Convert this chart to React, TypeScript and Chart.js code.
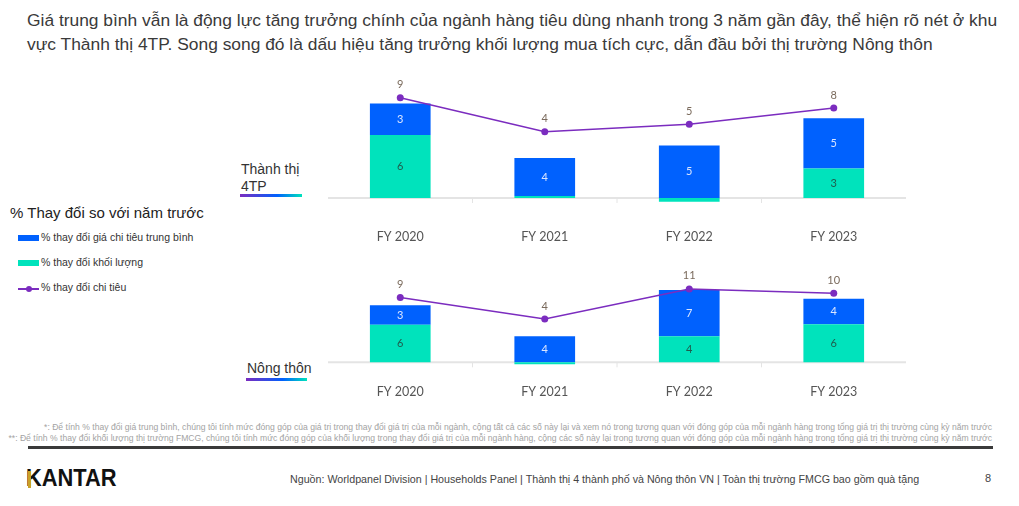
import React, { useEffect, useRef } from "react";
import { Chart, registerables } from "chart.js";

Chart.register(...registerables);

// ---------- data ----------
const categories = ["FY 2020", "FY 2021", "FY 2022", "FY 2023"];
const urbanVolume = [6.0, 0.2, -0.35, 2.8];
const urbanPrice = [3.0, 3.6, 5.0, 4.8];
const urbanSpend = [9.0, 4.0, 5.1, 7.5];
const ruralVolume = [5.9, -0.3, 4.1, 6.0];
const ruralPrice = [3.1, 4.1, 7.3, 4.0];
const ruralSpend = [9, 4, 11, 10];
const seriesLabels = [
  "% thay đổi giá chi tiêu trung bình",
  "% thay đổi khối lượng",
  "% thay đổi chi tiêu",
];

const BLUE = "#0061FE";
const TEAL = "#00E3BC";
const PURPLE = "#7B2CBF";
const AXIS_FONT = "Lato, 'Noto Sans', sans-serif";

const decorPlugin = {
  id: "decor",
  beforeDatasetsDraw(chart: any) {
    const { ctx, chartArea, scales } = chart;
    const y0 = scales.y.getPixelForValue(0);
    ctx.save();
    ctx.strokeStyle = "#e4e4e4";
    ctx.lineWidth = 2;
    ctx.beginPath();
    ctx.moveTo(chartArea.left, y0);
    ctx.lineTo(chartArea.right, y0);
    ctx.stroke();
    const n = chart.data.labels.length;
    ctx.lineWidth = 1;
    for (let i = 1; i < n; i++) {
      const x = (scales.x.getPixelForValue(i - 1) + scales.x.getPixelForValue(i)) / 2;
      ctx.beginPath();
      ctx.moveTo(x, y0);
      ctx.lineTo(x, y0 + 5);
      ctx.stroke();
    }
    ctx.restore();
  },
  afterDatasetsDraw(chart: any) {
    const { ctx } = chart;
    ctx.save();
    ctx.textAlign = "center";
    ctx.textBaseline = "middle";
    ctx.font = `11px ${AXIS_FONT}`;
    chart.data.datasets.forEach((ds: any, di: number) => {
      const meta = chart.getDatasetMeta(di);
      meta.data.forEach((el: any, i: number) => {
        const v = ds.data[i];
        const r = Math.round(v);
        if (ds.type === "line") {
          ctx.fillStyle = "#7a6a5c";
          ctx.fillText(String(r), el.x, el.y - 13);
        } else {
          if (Math.abs(v) < 1) return;
          ctx.fillStyle = ds.labelColor;
          ctx.fillText(String(r), el.x, (el.y + el.base) / 2);
        }
      });
    });
    ctx.restore();
  },
};

function StackChart(props: {
  volume: number[];
  price: number[];
  spend: number[];
  yMin: number;
  yMax: number;
  y1Min: number;
  y1Max: number;
  axisHeight: number;
}) {
  const ref = useRef<HTMLCanvasElement>(null);
  useEffect(() => {
    const chart = new Chart(ref.current as HTMLCanvasElement, {
      type: "bar",
      data: {
        labels: categories,
        datasets: [
          {
            type: "line",
            label: seriesLabels[2],
            data: props.spend,
            yAxisID: "y1",
            borderColor: PURPLE,
            backgroundColor: PURPLE,
            borderWidth: 1.5,
            pointRadius: 3.5,
            pointBackgroundColor: PURPLE,
            pointBorderWidth: 0,
            order: 0,
          } as any,
          {
            type: "bar",
            label: seriesLabels[1],
            data: props.volume,
            backgroundColor: TEAL,
            yAxisID: "y",
            stack: "s",
            order: 1,
            labelColor: "#1f5c4c",
          } as any,
          {
            type: "bar",
            label: seriesLabels[0],
            data: props.price,
            backgroundColor: BLUE,
            yAxisID: "y",
            stack: "s",
            order: 2,
            labelColor: "#dbe6ff",
          } as any,
        ],
      },
      options: {
        animation: false,
        responsive: true,
        maintainAspectRatio: false,
        layout: { padding: { top: 12, left: 0, right: 0, bottom: 0 } },
        datasets: { bar: { barPercentage: 0.42, categoryPercentage: 1 } },
        plugins: { legend: { display: false }, tooltip: { enabled: false } },
        scales: {
          x: {
            stacked: true,
            grid: { display: false, drawTicks: false },
            border: { display: false },
            ticks: { font: { size: 12.5, family: AXIS_FONT }, color: "#555", padding: 14 },
            afterFit: (s: any) => {
              s.height = props.axisHeight;
            },
          },
          y: { display: false, stacked: true, min: props.yMin, max: props.yMax },
          y1: { display: false, min: props.y1Min, max: props.y1Max },
        },
      } as any,
      plugins: [decorPlugin],
    });
    return () => chart.destroy();
  }, []);
  return <canvas ref={ref} />;
}

const abs = (l: number, t: number, extra: any = {}) => ({
  position: "absolute" as const,
  left: l,
  top: t,
  ...extra,
});

const underline = {
  height: 3,
  background: `linear-gradient(90deg, ${PURPLE}, ${BLUE} 60%, ${TEAL})`,
};

export default function App() {
  const sans = "'Liberation Sans', Arial, sans-serif";
  return (
    <div
      style={{
        position: "absolute",
        left: 0,
        top: 0,
        width: 1019,
        height: 506,
        background: "#fff",
        fontFamily: sans,
        color: "#333",
        overflow: "hidden",
      }}
    >
      <div style={abs(27, 8, { fontSize: 17.4, lineHeight: "24px", width: 1000, color: "#3a3a3a", whiteSpace: "nowrap" })}>
        Giá trung bình vẫn là động lực tăng trưởng chính của ngành hàng tiêu dùng nhanh trong 3 năm gần đây, thể hiện rõ nét ở khu
        <br />
        vực Thành thị 4TP. Song song đó là dấu hiệu tăng trưởng khối lượng mua tích cực, dẫn đầu bởi thị trường Nông thôn
      </div>

      <div style={abs(241, 161, { fontSize: 14, lineHeight: "17px", color: "#333" })}>
        Thành thị
        <br />
        4TP
      </div>
      <div style={abs(240, 194, { ...underline, width: 62 })} />

      <div style={abs(10, 204, { fontSize: 15, color: "#222", whiteSpace: "nowrap" })}>
        % Thay đổi so với năm trước
      </div>
      <div style={abs(18, 235, { width: 21, height: 6, background: BLUE })} />
      <div style={abs(41, 231, { fontSize: 10.5, color: "#333", whiteSpace: "nowrap" })}>{seriesLabels[0]}</div>
      <div style={abs(18, 260, { width: 21, height: 6, background: TEAL })} />
      <div style={abs(41, 256, { fontSize: 10.5, color: "#333", whiteSpace: "nowrap" })}>{seriesLabels[1]}</div>
      <div style={abs(18, 288, { width: 21, height: 1.5, background: PURPLE })} />
      <div style={abs(25.5, 285.5, { width: 6, height: 6, borderRadius: 3, background: PURPLE })} />
      <div style={abs(41, 281, { fontSize: 10.5, color: "#333", whiteSpace: "nowrap" })}>{seriesLabels[2]}</div>

      <div style={abs(247, 360, { fontSize: 14, lineHeight: "17px", color: "#333" })}>Nông thôn</div>
      <div style={abs(246, 378, { ...underline, width: 61 })} />

      <div style={abs(324, 70, { width: 586, height: 180 })}>
        <StackChart
          volume={urbanVolume}
          price={urbanPrice}
          spend={urbanSpend}
          yMin={-1.62}
          yMax={11.05}
          y1Min={-8.24}
          y1Max={11.32}
          axisHeight={35}
        />
      </div>
      <div style={abs(324, 265, { width: 586, height: 145 })}>
        <StackChart
          volume={ruralVolume}
          price={ruralPrice}
          spend={ruralSpend}
          yMin={-1.21}
          yMax={13.43}
          y1Min={-7.86}
          y1Max={13.77}
          axisHeight={40}
        />
      </div>

      <div
        style={abs(0, 422, {
          width: 992,
          textAlign: "right",
          fontSize: 8.6,
          lineHeight: "10.5px",
          color: "#a3a3a3",
          whiteSpace: "nowrap",
        })}
      >
        *: Để tính % thay đổi giá trung bình, chúng tôi tính mức đóng góp của giá trị trong thay đổi giá trị của mỗi ngành, cộng tất cả các số này lại và xem nó trong tương quan với đóng góp của mỗi ngành hàng trong tổng giá trị thị trường cùng kỳ năm trước
        <br />
        **: Để tính % thay đổi khối lượng thị trường FMCG, chúng tôi tính mức đóng góp của khối lượng trong thay đổi giá trị của mỗi ngành hàng, cộng các số này lại trong tương quan với đóng góp của mỗi ngành hàng trong tổng giá trị thị trường cùng kỳ năm trước
      </div>
      <div style={abs(28, 446, { width: 965, height: 3, background: "#3a3a3a" })} />

      <div
        style={abs(26, 464, {
          fontSize: 23,
          fontWeight: "bold",
          color: "#111",
          lineHeight: "28px",
          transform: "scaleX(0.95)",
          transformOrigin: "left center",
          whiteSpace: "nowrap",
        })}
      >
        KANTAR
      </div>
      <div style={abs(28, 471, { width: 2.5, height: 17, background: "#c9a227" })} />
      <div style={abs(290, 473, { fontSize: 10.7, color: "#444", whiteSpace: "nowrap" })}>
        Nguồn: Worldpanel Division | Households Panel | Thành thị 4 thành phố và Nông thôn VN | Toàn thị trường FMCG bao gồm quà tặng
      </div>
      <div style={abs(985, 472, { fontSize: 11, color: "#444" })}>8</div>
    </div>
  );
}
